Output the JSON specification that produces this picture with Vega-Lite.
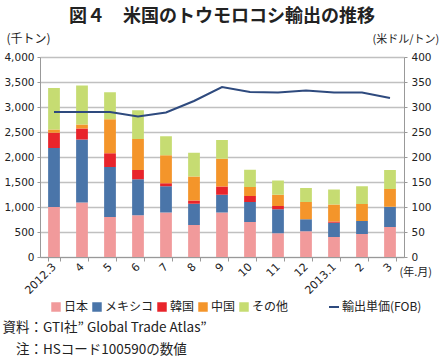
{
  "$schema": "https://vega.github.io/schema/vega-lite/v6.json",
  "autosize": {"type": "none"},
  "width": 364,
  "height": 200,
  "padding": {"left": 40, "top": 57, "right": 35, "bottom": 107},
  "background": "white",
  "config": {
    "font": "Noto Sans CJK JP",
    "view": {"stroke": null},
    "axis": {"labelFont": "DejaVu Sans", "labelFontSize": 10.5, "labelColor": "#222", "domainColor": "#999", "tickColor": "#999", "titleFont": "Noto Sans CJK JP", "titleFontWeight": "normal", "titleColor": "#222"}
  },
  "title": {"text": "図４　米国のトウモロコシ輸出の推移", "fontSize": 18, "fontWeight": "bold", "anchor": "middle", "offset": 6, "color": "#222", "font": "Noto Sans CJK JP"},
  "datasets": {
    "bars": [
      {"m": "2012.3", "c": "日本", "v": 1000}, {"m": "2012.3", "c": "メキシコ", "v": 1180}, {"m": "2012.3", "c": "韓国", "v": 305}, {"m": "2012.3", "c": "中国", "v": 65}, {"m": "2012.3", "c": "その他", "v": 830},
      {"m": "4", "c": "日本", "v": 1090}, {"m": "4", "c": "メキシコ", "v": 1260}, {"m": "4", "c": "韓国", "v": 220}, {"m": "4", "c": "中国", "v": 80}, {"m": "4", "c": "その他", "v": 780},
      {"m": "5", "c": "日本", "v": 800}, {"m": "5", "c": "メキシコ", "v": 1000}, {"m": "5", "c": "韓国", "v": 275}, {"m": "5", "c": "中国", "v": 680}, {"m": "5", "c": "その他", "v": 540},
      {"m": "6", "c": "日本", "v": 835}, {"m": "6", "c": "メキシコ", "v": 720}, {"m": "6", "c": "韓国", "v": 185}, {"m": "6", "c": "中国", "v": 620}, {"m": "6", "c": "その他", "v": 575},
      {"m": "7", "c": "日本", "v": 890}, {"m": "7", "c": "メキシコ", "v": 525}, {"m": "7", "c": "韓国", "v": 60}, {"m": "7", "c": "中国", "v": 560}, {"m": "7", "c": "その他", "v": 380},
      {"m": "8", "c": "日本", "v": 640}, {"m": "8", "c": "メキシコ", "v": 425}, {"m": "8", "c": "韓国", "v": 65}, {"m": "8", "c": "中国", "v": 480}, {"m": "8", "c": "その他", "v": 475},
      {"m": "9", "c": "日本", "v": 890}, {"m": "9", "c": "メキシコ", "v": 355}, {"m": "9", "c": "韓国", "v": 165}, {"m": "9", "c": "中国", "v": 555}, {"m": "9", "c": "その他", "v": 375},
      {"m": "10", "c": "日本", "v": 700}, {"m": "10", "c": "メキシコ", "v": 400}, {"m": "10", "c": "韓国", "v": 120}, {"m": "10", "c": "中国", "v": 180}, {"m": "10", "c": "その他", "v": 345},
      {"m": "11", "c": "日本", "v": 475}, {"m": "11", "c": "メキシコ", "v": 480}, {"m": "11", "c": "韓国", "v": 65}, {"m": "11", "c": "中国", "v": 225}, {"m": "11", "c": "その他", "v": 285},
      {"m": "12", "c": "日本", "v": 515}, {"m": "12", "c": "メキシコ", "v": 240}, {"m": "12", "c": "韓国", "v": 0}, {"m": "12", "c": "中国", "v": 345}, {"m": "12", "c": "その他", "v": 280},
      {"m": "2013.1", "c": "日本", "v": 400}, {"m": "2013.1", "c": "メキシコ", "v": 285}, {"m": "2013.1", "c": "韓国", "v": 25}, {"m": "2013.1", "c": "中国", "v": 340}, {"m": "2013.1", "c": "その他", "v": 300},
      {"m": "2", "c": "日本", "v": 460}, {"m": "2", "c": "メキシコ", "v": 260}, {"m": "2", "c": "韓国", "v": 0}, {"m": "2", "c": "中国", "v": 340}, {"m": "2", "c": "その他", "v": 355},
      {"m": "3", "c": "日本", "v": 600}, {"m": "3", "c": "メキシコ", "v": 405}, {"m": "3", "c": "韓国", "v": 0}, {"m": "3", "c": "中国", "v": 355}, {"m": "3", "c": "その他", "v": 380}
    ],
    "price": [
      {"m": "2012.3", "p": 290}, {"m": "4", "p": 290}, {"m": "5", "p": 290}, {"m": "6", "p": 281}, {"m": "7", "p": 289}, {"m": "8", "p": 312}, {"m": "9", "p": 340},
      {"m": "10", "p": 330}, {"m": "11", "p": 329}, {"m": "12", "p": 333}, {"m": "2013.1", "p": 329}, {"m": "2", "p": 329}, {"m": "3", "p": 318}
    ]
  },
  "layer": [
    {
      "data": {"name": "bars"},
      "transform": [{"calculate": "indexof(['日本', 'メキシコ', '韓国', '中国', 'その他'], datum.c)", "as": "rank"}],
      "mark": {"type": "bar"},
      "encoding": {
        "x": {"field": "m", "type": "nominal", "sort": null, "scale": {"paddingInner": 0.58, "paddingOuter": 0.29},
          "axis": {"orient": "bottom", "labelAngle": -45, "labelAlign": "right", "labelBaseline": "middle", "labelPadding": 4, "tickBand": "extent", "tickSize": 4, "title": "(年.月)", "titleX": 359, "titleY": 9, "titleAlign": "left", "titleBaseline": "top", "titleFontSize": 11, "labelFontSize": 11}},
        "y": {"field": "v", "type": "quantitative", "stack": "zero", "scale": {"domain": [0, 4000]},
          "axis": {"values": [0, 500, 1000, 1500, 2000, 2500, 3000, 3500, 4000], "format": ",.0f", "grid": true, "gridColor": "#c0c0c0", "gridWidth": 1.5, "ticks": true, "tickSize": 3, "labelPadding": 3, "title": "(千トン)", "titleAngle": 0, "titleX": -34, "titleY": -15, "titleAlign": "left", "titleBaseline": "alphabetic", "titleFontSize": 12}},
        "color": {"field": "c", "type": "nominal", "sort": ["日本", "メキシコ", "韓国", "中国", "その他"],
          "scale": {"domain": ["日本", "メキシコ", "韓国", "中国", "その他"], "range": ["#F19A9B", "#4A75A9", "#E8242B", "#F4952A", "#C6DC72"]},
          "legend": {"title": null, "orient": "none", "direction": "horizontal", "legendX": 10, "legendY": 244, "symbolType": "square", "symbolSize": 90, "symbolStrokeWidth": 0, "labelFontSize": 12, "labelColor": "#222", "columnPadding": 2, "symbolOffset": 0, "labelOffset": 2}},
        "order": {"field": "rank", "type": "quantitative", "sort": "ascending"}
      }
    },
    {
      "data": {"name": "price"},
      "mark": {"type": "line", "strokeWidth": 2},
      "encoding": {
        "x": {"field": "m", "type": "nominal", "sort": null,
          "axis": {"orient": "bottom", "labels": false, "ticks": false, "domain": false, "grid": false, "title": ["資料：GTI社” Global Trade Atlas”", "\u200b\u3000注：HSコード100590の数値"], "titleX": -38, "titleY": 63, "titleAlign": "left", "titleBaseline": "top", "titleFontSize": 13.5, "titleLineHeight": 22}},
        "y": {"field": "p", "type": "quantitative", "scale": {"domain": [0, 400]},
          "axis": {"orient": "right", "values": [0, 50, 100, 150, 200, 250, 300, 350, 400], "grid": false, "ticks": true, "tickSize": 3, "labelPadding": 4, "title": "(米ドル/トン)", "titleAngle": 0, "titleX": -32, "titleY": -15, "titleAlign": "left", "titleBaseline": "alphabetic", "titleFontSize": 11}},
        "stroke": {"datum": "輸出単価(FOB)", "scale": {"range": ["#2E4A7E"]},
          "legend": {"title": null, "orient": "none", "legendX": 288, "legendY": 244, "symbolType": "stroke", "symbolSize": 100, "symbolStrokeWidth": 2, "labelFontSize": 12, "labelColor": "#222", "labelOffset": 2}}
      }
    }
  ],
  "resolve": {"scale": {"y": "independent"}, "axis": {"x": "independent"}}
}
